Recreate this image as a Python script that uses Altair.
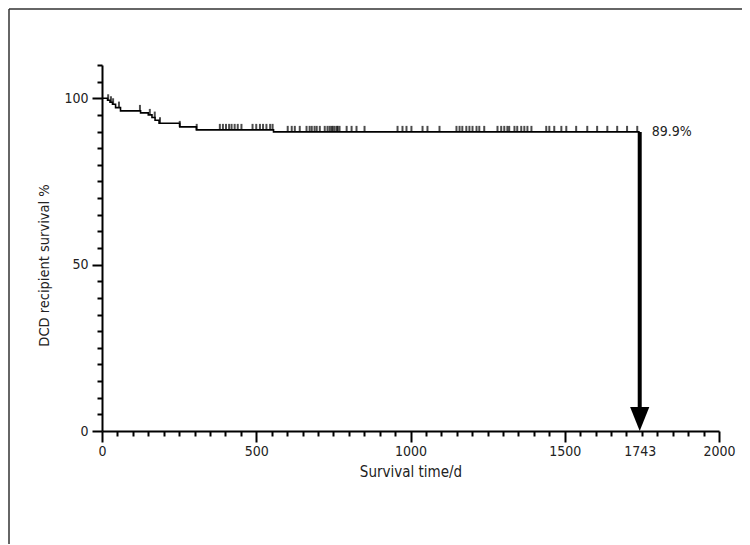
import altair as alt
import pandas as pd

# ---- data ----
step_days = [0, 18, 26, 34, 44, 60, 125, 150, 162, 172, 185, 252, 306, 556, 1743]
step_surv = [100, 99.4, 98.8, 98.2, 97.2, 96.2, 95.6, 95.0, 94.2, 93.4, 92.5, 91.4, 90.5, 89.9, 89.9]

censor_days = [20, 29, 36, 55, 123, 155, 171, 188, 252, 307,
               382, 392, 402, 412, 420, 430, 440, 452,
               488, 500, 512, 522, 533, 545, 553,
               602, 615, 625, 641, 663, 673, 680, 689, 696, 706, 722, 731, 738,
               744, 748, 754, 761, 764, 770, 793, 809, 825, 851,
               958, 974, 987, 1003, 1039, 1055, 1094,
               1149, 1159, 1168, 1181, 1191, 1201, 1214, 1223, 1239,
               1282, 1294, 1304, 1314, 1320, 1337, 1346, 1359, 1369, 1379, 1392,
               1440, 1450, 1466, 1489, 1505, 1537, 1573, 1605, 1638, 1670, 1702, 1735]

median_day = 1743
final_surv = 89.9
final_label = "89.9%"

x_tick_values = list(range(0, 2001, 50)) + [1743]
x_label_values = [0, 500, 1000, 1500, 1743, 2000]
y_tick_values = list(range(0, 111, 5))

x_title = "Survival time/d"
y_title = "DCD recipient survival %"

FONT = "DejaVu Sans Condensed, Liberation Sans Narrow, sans-serif"


def surv_at(d):
    s = step_surv[0]
    for t, v in zip(step_days, step_surv):
        if t <= d:
            s = v
    return s


km = pd.DataFrame({"day": step_days, "surv": step_surv})
cens = pd.DataFrame({"day": censor_days, "surv": [surv_at(d) for d in censor_days]})
final = pd.DataFrame({"day": [median_day], "surv": [final_surv], "zero": [0], "label": [final_label]})

xscale = alt.Scale(domain=[0, 2000], nice=False, zero=False)
yscale = alt.Scale(domain=[0, 110], nice=False, zero=False)

xaxis = alt.Axis(
    values=x_tick_values,
    format="d",
    labelExpr="indexof(" + str(x_label_values) + ", datum.value) >= 0 ? datum.label : ''",
    tickSize={"condition": {"test": "datum.value % 500 === 0 || datum.value === 1743", "value": 11}, "value": 5},
    tickOpacity={"condition": {"test": "datum.value === 1743", "value": 0}, "value": 1},
    grid=False,
    domainColor="black", domainWidth=2, tickColor="black", tickWidth=2,
    labelFont=FONT, labelFontSize=14, labelColor="#222", labelPadding=2,
    labelOverlap=False, labelFlush=False,
    titleFont=FONT, titleFontSize=15, titleFontWeight="normal", titleColor="#222",
    titlePadding=6,
)
yaxis = alt.Axis(
    values=y_tick_values,
    labelExpr="datum.value % 50 === 0 ? datum.label : ''",
    tickSize={"condition": {"test": "datum.value % 50 === 0", "value": 10}, "value": 5},
    grid=False,
    domainColor="black", domainWidth=2, tickColor="black", tickWidth=2,
    labelFont=FONT, labelFontSize=14, labelColor="#222", labelPadding=4,
    labelOverlap=False, labelFlush=False,
    titleFont=FONT, titleFontSize=14.5, titleFontWeight="normal", titleColor="#222",
    titleAngle=-90, titleX=-58, titleY=200, titleAlign="center", titleBaseline="middle",
)


def X(field="day"):
    return alt.X(f"{field}:Q", scale=xscale, axis=xaxis, title=x_title)


def Y(field="surv"):
    return alt.Y(f"{field}:Q", scale=yscale, axis=yaxis, title=y_title)


line = alt.Chart(km).mark_line(interpolate="step-after", color="black", strokeWidth=1.6).encode(
    x=X(), y=Y(),
)

ticks = alt.Chart(cens).mark_tick(orient="vertical", color="black", size=6, thickness=2, yOffset=-3).encode(
    x=X(), y=Y(),
)

arrow_shaft = alt.Chart(final).mark_rule(color="black", strokeWidth=4, y2Offset=-20).encode(
    x=X(), y=Y(), y2="zero:Q",
)

arrow_head = alt.Chart(final).mark_point(
    shape="M-0.8,-1L0.8,-1L0,1Z", size=576, filled=True, color="black", opacity=1, yOffset=-12
).encode(
    x=X(), y=Y("zero"),
)

label = alt.Chart(final).mark_text(align="left", baseline="middle", dx=12, font=FONT, fontSize=14, color="#222").encode(
    x=X(), y=Y(), text="label:N",
)

# outer frame (decorative)
frame_top = alt.Chart(final).mark_rule(color="#333", strokeWidth=1.5).encode(
    x=alt.value(-93), x2=alt.value(640), y=alt.value(-56)
)
frame_left = alt.Chart(final).mark_rule(color="#333", strokeWidth=1.5).encode(
    x=alt.value(-93), y=alt.value(-56), y2=alt.value(480)
)

chart = alt.layer(line, ticks, arrow_shaft, arrow_head, label, frame_top, frame_left).properties(
    width=617, height=366,
    autosize=alt.AutoSizeParams(type="none"),
    padding={"left": 94, "top": 57, "right": 23, "bottom": 113},
).configure_view(stroke=None)

chart.save("out.html", embed_options={"renderer": "svg", "actions": False})
